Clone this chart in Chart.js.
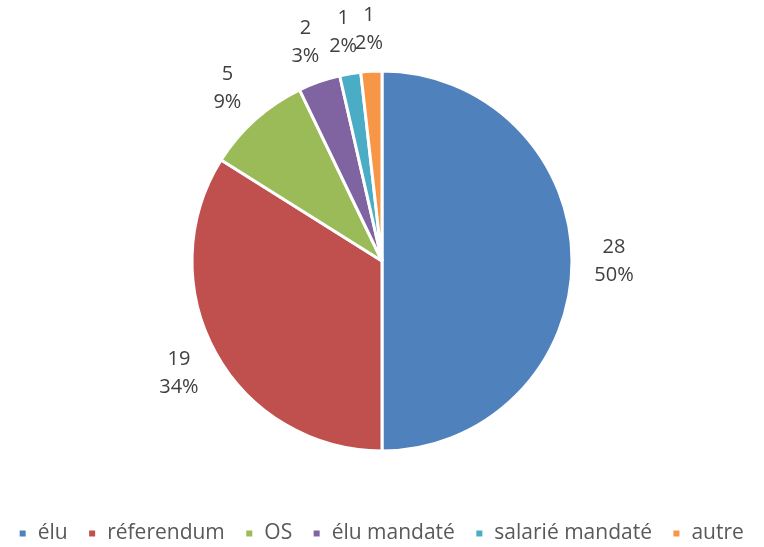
<!DOCTYPE html>
<html><head><meta charset="utf-8">
<script src="https://cdn.jsdelivr.net/npm/chart.js@4/dist/chart.umd.min.js"></script>
<style>html,body{margin:0;padding:0;background:#fff}#wrap{width:764px;height:547px}</style>
</head><body><div id="wrap"><canvas id="c" width="764" height="547"></canvas></div>
<script>
const categories = ["élu", "réferendum", "OS", "élu mandaté", "salarié mandaté", "autre"];
const values = [28, 19, 5, 2, 1, 1];
const pctLabels = ["50%", "34%", "9%", "3%", "2%", "2%"];
const colors = ["#4F81BD", "#C0504D", "#9BBB59", "#8064A2", "#4BACC6", "#F79646"];

const labelPlugin = {
  id: 'outLabels',
  afterDatasetsDraw(chart) {
    const ctx = chart.ctx;
    const meta = chart.getDatasetMeta(0);
    ctx.save();
    ctx.fillStyle = '#404040';
    ctx.font = '20px "Open Sans"';
    ctx.textAlign = 'center';
    ctx.textBaseline = 'middle';
    meta.data.forEach((arc, i) => {
      const p = arc.getProps(['x','y','startAngle','endAngle','outerRadius'], true);
      const mid = (p.startAngle + p.endAngle) / 2;
      const r = p.outerRadius + 42;
      const x = p.x + Math.cos(mid) * r;
      const y = p.y + Math.sin(mid) * r;
      ctx.fillText(String(values[i]), x, y - 14);
      ctx.fillText(pctLabels[i], x, y + 14);
    });
    ctx.restore();
  }
};

new Chart(document.getElementById('c'), {
  type: 'pie',
  data: {
    labels: categories,
    datasets: [{ data: values, backgroundColor: colors, borderColor: '#ffffff', borderWidth: 3, radius: 190 }]
  },
  options: {
    responsive: false,
    animation: false,
    layout: { padding: { top: 19, bottom: -7, left: -2, right: 0 } },
    plugins: {
      tooltip: { enabled: false },
      legend: {
        position: 'bottom',
        labels: {
          boxWidth: 9, boxHeight: 9, padding: 20,
          color: '#595959',
          font: { family: '"Open Sans"', size: 21 }
        }
      }
    }
  },
  plugins: [labelPlugin]
});
</script></body></html>
